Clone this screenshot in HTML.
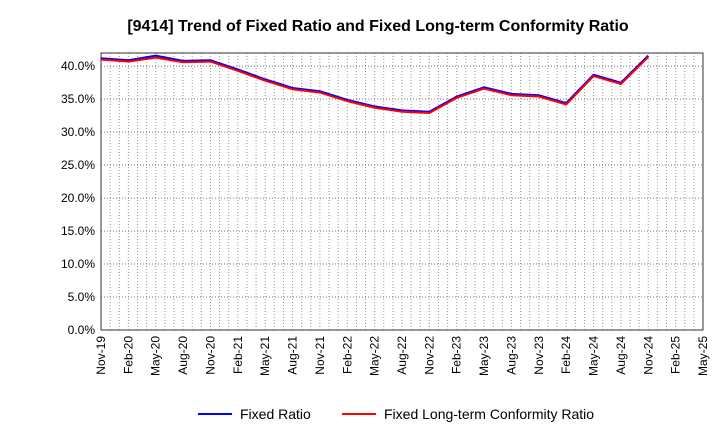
<!DOCTYPE html>
<html><head><meta charset="utf-8"><style>
body{margin:0;background:#fff;font-family:"Liberation Sans",Arial,sans-serif;}
</style></head><body>
<svg id="c" width="720" height="440" xmlns="http://www.w3.org/2000/svg">
<text x="378" y="31" text-anchor="middle" font-size="16" font-weight="bold" fill="#000">[9414]  Trend of Fixed Ratio and Fixed Long-term Conformity Ratio</text>
<g id="grid"></g><g id="axes"></g><g id="series"></g>
<g>
<line x1="198" y1="414" x2="232" y2="414" stroke="#0000ff" stroke-width="2"/>
<text x="240" y="419" font-size="14">Fixed Ratio</text>
<line x1="342" y1="414" x2="376" y2="414" stroke="#ff0000" stroke-width="2"/>
<text x="384" y="419" font-size="14">Fixed Long-term Conformity Ratio</text>
</g>
</svg>
<script>
const xLabels=["Nov-19","Feb-20","May-20","Aug-20","Nov-20","Feb-21","May-21","Aug-21","Nov-21","Feb-22","May-22","Aug-22","Nov-22","Feb-23","May-23","Aug-23","Nov-23","Feb-24","May-24","Aug-24","Nov-24","Feb-25","May-25"];
const fixedRatio=[41.2,40.9,41.6,40.8,40.9,39.5,38.0,36.7,36.2,34.9,33.9,33.3,33.1,35.4,36.8,35.8,35.6,34.4,38.7,37.5,41.6];
const fixedLtc=[41.0,40.7,41.3,40.6,40.7,39.3,37.8,36.5,36.0,34.7,33.7,33.1,32.9,35.2,36.6,35.6,35.4,34.2,38.5,37.3,41.4];
const yTicks=[0,5,10,15,20,25,30,35,40];
const L=101,R=703,T=53,B=330,YMAX=42;
const NS="http://www.w3.org/2000/svg";
const x=i=>L+i*(R-L)/(xLabels.length-1);
const y=v=>B-v/YMAX*(B-T);
function mk(p,tag,a){const e=document.createElementNS(NS,tag);for(const k in a)e.setAttribute(k,a[k]);p.appendChild(e);return e;}
const g=document.getElementById('grid'),ax=document.getElementById('axes'),s=document.getElementById('series');
for(let m=1;m<(xLabels.length-1)*3;m++){const xx=L+m*(R-L)/((xLabels.length-1)*3);
 const l=mk(g,'line',{x1:xx,x2:xx,y1:T,y2:B,stroke:'#999','stroke-dasharray':'1,2','stroke-width':1});
 
 }
yTicks.forEach(v=>{const yy=y(v);
 if(v>0){const l=mk(g,'line',{x1:L,x2:R,y1:yy,y2:yy,stroke:'#777','stroke-dasharray':'1,2'});
 
 }
 const t=mk(ax,'text',{x:L-6,y:yy+4,'text-anchor':'end','font-size':12});t.textContent=v.toFixed(1)+'%';
 
 });
const fr=mk(ax,'rect',{x:L,y:T,width:R-L,height:B-T,fill:'none',stroke:'#333','stroke-width':1});


xLabels.forEach((lb,i)=>{const t=mk(ax,'text',{transform:`translate(${x(i)+4},${B+6}) rotate(-90)`,'text-anchor':'end','font-size':12});t.textContent=lb;
 
 });
function line(d,c,n){const p=mk(s,'polyline',{points:d.map((v,i)=>x(i)+','+y(v)).join(' '),fill:'none',stroke:c,'stroke-width':2});
 
 }
line(fixedRatio,'#0000ff','fixed-ratio-line');
line(fixedLtc,'#ff0000','fixed-ltc-ratio-line');
</script>
</body></html>
